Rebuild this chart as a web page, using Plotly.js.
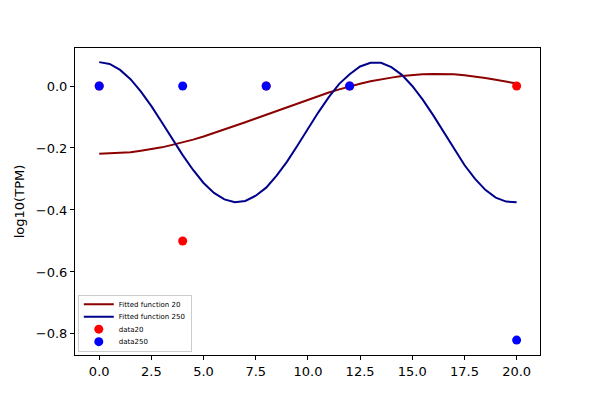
<!DOCTYPE html>
<html>
<head>
<meta charset="utf-8">
<script src="https://cdn.plot.ly/plotly-3.0.1.min.js"></script>
<style>
  body { margin: 0; }
  #canvas { width: 600px; height: 400px; }
</style>
</head>
<body>
<div id="canvas"></div>
<script>
// sample points of the two fitted curves
const fitX = [0, 0.5, 1, 1.5, 2, 2.5, 3, 3.5, 4, 4.5, 5, 5.5, 6, 6.5, 7, 7.5, 8, 8.5, 9, 9.5,
    10, 10.5, 11, 11.5, 12, 12.5, 13, 13.5, 14, 14.5, 15, 15.5, 16, 16.5, 17, 17.5, 18, 18.5, 19, 19.5, 20];

const fit20 = [-0.219, -0.218, -0.217, -0.214, -0.209, -0.204, -0.198, -0.190, -0.182, -0.173,
    -0.163, -0.152, -0.141, -0.129, -0.117, -0.105, -0.093, -0.080, -0.068, -0.055,
    -0.044, -0.032, -0.021, -0.011, -0.001, 0.007, 0.015, 0.022, 0.027, 0.032,
    0.036, 0.038, 0.039, 0.039, 0.038, 0.035, 0.031, 0.026, 0.020, 0.014, 0.008];

const fit250 = [0.077, 0.071, 0.052, 0.022, -0.018, -0.065, -0.117, -0.170, -0.223, -0.271,
    -0.313, -0.345, -0.366, -0.375, -0.371, -0.354, -0.328, -0.289, -0.244, -0.192,
    -0.138, -0.085, -0.036, 0.007, 0.038, 0.063, 0.075, 0.075, 0.061, 0.036,
    0.000, -0.044, -0.094, -0.149, -0.204, -0.255, -0.299, -0.335, -0.360, -0.373, -0.375];

// measured data
const dataX = [0, 4, 8, 12, 20];
const data20 = [0, -0.5, 0, 0, 0];
const data250 = [0, 0, 0, 0, -0.82];

const xTicks = [0, 2.5, 5, 7.5, 10, 12.5, 15, 17.5, 20];
const yTicks = [0, -0.2, -0.4, -0.6, -0.8];

const FONT = "DejaVu Sans, sans-serif";
const LEGEND_STEP = 12.5; // row height of the matplotlib-style legend

var getPlotData = () => [
    { x: fitX, y: fit20, mode: "lines", name: "Fitted function 20", line: { color: "#8b0000", width: 2 } },
    { x: fitX, y: fit250, mode: "lines", name: "Fitted function 250", line: { color: "#00008b", width: 2 } },
    { x: dataX, y: data20, mode: "markers", name: "data20", marker: { color: "#ff0000", size: 9 } },
    { x: dataX, y: data250, mode: "markers", name: "data250", marker: { color: "#0000ff", size: 9 } },
];

var axisCommon = {
    showgrid: false,
    zeroline: false,
    showline: true,
    mirror: true,
    linecolor: "#000",
    linewidth: 1,
    ticks: "outside",
    ticklen: 4,
    tickwidth: 1,
    tickcolor: "#000",
    tickfont: { family: FONT, size: 13, color: "#000" },
    tickformat: ".1f",
};

var getPlotLayout = () => ({
    width: 600,
    height: 400,
    margin: { l: 75, r: 60, t: 48, b: 45 },
    paper_bgcolor: "#fff",
    plot_bgcolor: "#fff",
    font: { family: FONT, color: "#000" },
    showlegend: true,
    xaxis: Object.assign({}, axisCommon, {
        range: [-1.16, 21.12],
        tickvals: xTicks,
    }),
    yaxis: Object.assign({}, axisCommon, {
        range: [-0.868, 0.1226],
        tickvals: yTicks,
        title: { text: "log10(TPM)", font: { family: FONT, size: 13, color: "#000" }, standoff: 8 },
    }),
    legend: {
        x: 0.006,
        y: 0.01,
        xanchor: "left",
        yanchor: "bottom",
        bgcolor: "rgba(255,255,255,0.8)",
        bordercolor: "#cccccc",
        borderwidth: 1,
        font: { family: FONT, size: 7, color: "#000" },
        tracegroupgap: 0,
        itemwidth: 30,
    },
});

// pack the legend rows tighter (plotly keeps a 19px minimum per row)
function tightenLegend(gd) {
    let legend = gd.querySelector(".legend");
    if (!legend) return;
    let bg = legend.querySelector("rect.bg");
    let traces = legend.querySelectorAll(".traces");
    let parse = (el) => {
        let m = /translate\(\s*([-\d.]+)[ ,]+([-\d.]+)\s*\)/.exec(el.getAttribute("transform") || "");
        return m ? [parseFloat(m[1]), parseFloat(m[2])] : [0, 0];
    };
    let firstY = LEGEND_STEP / 2 + 3;
    traces.forEach((t, i) => {
        let [x] = parse(t);
        t.setAttribute("transform", `translate(${x}, ${firstY + i * LEGEND_STEP})`);
    });
    let oldH = parseFloat(bg.getAttribute("height"));
    let newH = firstY + (traces.length - 1) * LEGEND_STEP + LEGEND_STEP / 2 + 3;
    bg.setAttribute("height", newH);
    let [lx, ly] = parse(legend);
    legend.setAttribute("transform", `translate(${lx}, ${ly + oldH - newH})`);
}

Plotly.newPlot("canvas", getPlotData(), getPlotLayout(), { staticPlot: true }).then(tightenLegend);
</script>
</body>
</html>
